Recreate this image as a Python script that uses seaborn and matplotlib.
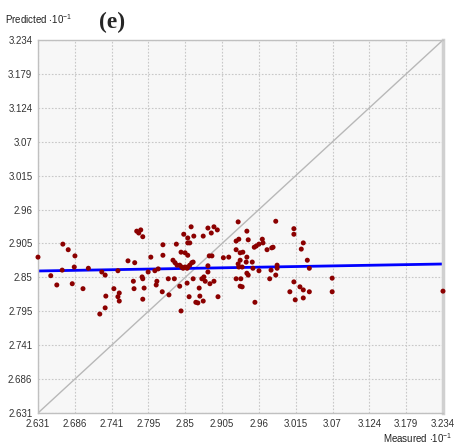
import numpy as np
import pandas as pd
import matplotlib
matplotlib.use("Agg")
import matplotlib.pyplot as plt
import seaborn as sns

# measured / predicted values (units of 10^-1)
measured = [
    2.631, 2.668, 2.676, 2.686, 2.667, 2.650, 2.659, 2.682, 2.685, 2.706,
    2.698, 2.726, 2.731, 2.750, 2.744, 2.752, 2.752, 2.750, 2.732, 2.731,
    2.723, 2.765, 2.775, 2.773, 2.774, 2.789, 2.787, 2.786, 2.787, 2.778,
    2.784, 2.781, 2.787, 2.799, 2.808, 2.807, 2.795, 2.805, 2.810, 2.816,
    2.817, 2.817, 2.825, 2.826, 2.834, 2.837, 2.832, 2.835, 2.838, 2.842,
    2.845, 2.847, 2.850, 2.853, 2.854, 2.857, 2.860, 2.862, 2.844, 2.850,
    2.854, 2.857, 2.854, 2.854, 2.848, 2.859, 2.863, 2.842, 2.853, 2.856,
    2.844, 2.862, 2.871, 2.872, 2.866, 2.869, 2.877, 2.875, 2.878, 2.880,
    2.884, 2.887, 2.893, 2.899, 2.884, 2.886, 2.890, 2.877, 2.884, 2.889,
    2.893, 2.898, 2.907, 2.915, 2.929, 2.926, 2.930, 2.942, 2.944, 2.926,
    2.932, 2.936, 2.942, 2.932, 2.941, 2.929, 2.930, 2.935, 2.950, 2.951,
    2.942, 2.944, 2.926, 2.933, 2.932, 2.935, 2.954, 2.960, 2.953, 2.956,
    2.960, 2.965, 2.966, 2.972, 2.979, 2.981, 2.985, 2.978, 2.976, 2.987,
    2.987, 2.985, 3.012, 3.012, 3.026, 3.023, 3.032, 3.035, 3.012, 3.006,
    3.021, 3.026, 3.035, 3.026, 3.014, 3.069, 3.069, 3.234,
]
predicted = [
    2.883, 2.904, 2.895, 2.885, 2.862, 2.853, 2.838, 2.840, 2.867, 2.865,
    2.832, 2.859, 2.854, 2.861, 2.832, 2.825, 2.812, 2.819, 2.820, 2.801,
    2.791, 2.877, 2.874, 2.844, 2.832, 2.833, 2.815, 2.851, 2.848, 2.925,
    2.927, 2.922, 2.916, 2.883, 2.844, 2.838, 2.859, 2.861, 2.864, 2.827,
    2.886, 2.903, 2.848, 2.822, 2.848, 2.904, 2.878, 2.874, 2.870, 2.870,
    2.867, 2.865, 2.867, 2.865, 2.867, 2.870, 2.874, 2.875, 2.891, 2.890,
    2.886, 2.906, 2.906, 2.914, 2.920, 2.932, 2.917, 2.836, 2.841, 2.819,
    2.796, 2.848, 2.833, 2.820, 2.810, 2.809, 2.812, 2.848, 2.851, 2.844,
    2.859, 2.840, 2.844, 2.819, 2.869, 2.885, 2.885, 2.917, 2.930, 2.922,
    2.932, 2.927, 2.882, 2.883, 2.940, 2.909, 2.912, 2.925, 2.911, 2.895,
    2.890, 2.891, 2.883, 2.878, 2.875, 2.872, 2.867, 2.867, 2.875, 2.865,
    2.857, 2.854, 2.848, 2.848, 2.836, 2.835, 2.810, 2.861, 2.899, 2.901,
    2.904, 2.912, 2.906, 2.895, 2.898, 2.899, 2.941, 2.862, 2.848, 2.870,
    2.865, 2.854, 2.929, 2.920, 2.906, 2.896, 2.878, 2.865, 2.843, 2.827,
    2.835, 2.830, 2.827, 2.817, 2.814, 2.849, 2.827, 2.828,
]

# fitted line end points
fit_x = [2.631, 3.234]
fit_y = [2.8606, 2.8719]

tick_labels = ["2.631", "2.686", "2.741", "2.795", "2.85", "2.905",
               "2.96", "3.015", "3.07", "3.124", "3.179", "3.234"]

df = pd.DataFrame({"measured": measured, "predicted": predicted})

sns.set_style("white")
plt.rcParams["font.family"] = ["Liberation Sans", "DejaVu Sans"]
plt.rcParams["mathtext.default"] = "regular"

fig = plt.figure(figsize=(4.55, 4.44), dpi=100)
ax = fig.add_axes([0.0835, 0.0698, 0.8901, 0.8401])
ax.set_facecolor("#f7f7f7")

lo, hi = 2.631, 3.234
ax.set_xlim(lo, hi)
ax.set_ylim(lo, hi)

ticks = np.linspace(lo, hi, len(tick_labels))
ax.set_xticks(ticks)
ax.set_xticklabels(tick_labels)
ax.set_yticks(ticks)
ax.set_yticklabels(tick_labels)
ax.tick_params(length=0, labelsize=7, colors="#333333", pad=4)
ax.grid(True, linestyle=(0, (1.5, 1.5)), color="#c8c8c8", linewidth=0.8)

# identity line
sns.lineplot(x=[lo, hi], y=[lo, hi], ax=ax, color="#b8b8b8", linewidth=1)
# regression line
sns.lineplot(x=fit_x, y=fit_y, ax=ax, color="#0000ff", linewidth=2)
sns.scatterplot(data=df, x="measured", y="predicted", ax=ax, color="#8b0000",
                s=13, edgecolor="none", clip_on=False, zorder=5)

for side in ["left", "bottom", "top"]:
    ax.spines[side].set_color("#c0c0c0")
    ax.spines[side].set_linewidth(1)
ax.spines["right"].set_color("#d0d0d0")
ax.spines["right"].set_linewidth(2.5)

ax.set_xlabel("")
ax.set_ylabel("")

fig.text(0.012, 0.958, r"Predicted $\cdot10^{-1}$", fontsize=7, color="#222222",
         va="center", ha="left")
fig.text(0.995, 0.013, r"Measured $\cdot10^{-1}$", fontsize=7, color="#222222",
         va="center", ha="right")
fig.text(0.218, 0.95, "(e)", fontsize=17, fontweight="bold",
         family=["Liberation Serif", "DejaVu Serif"], va="center", ha="left")

fig.savefig("out.png", dpi=100)
